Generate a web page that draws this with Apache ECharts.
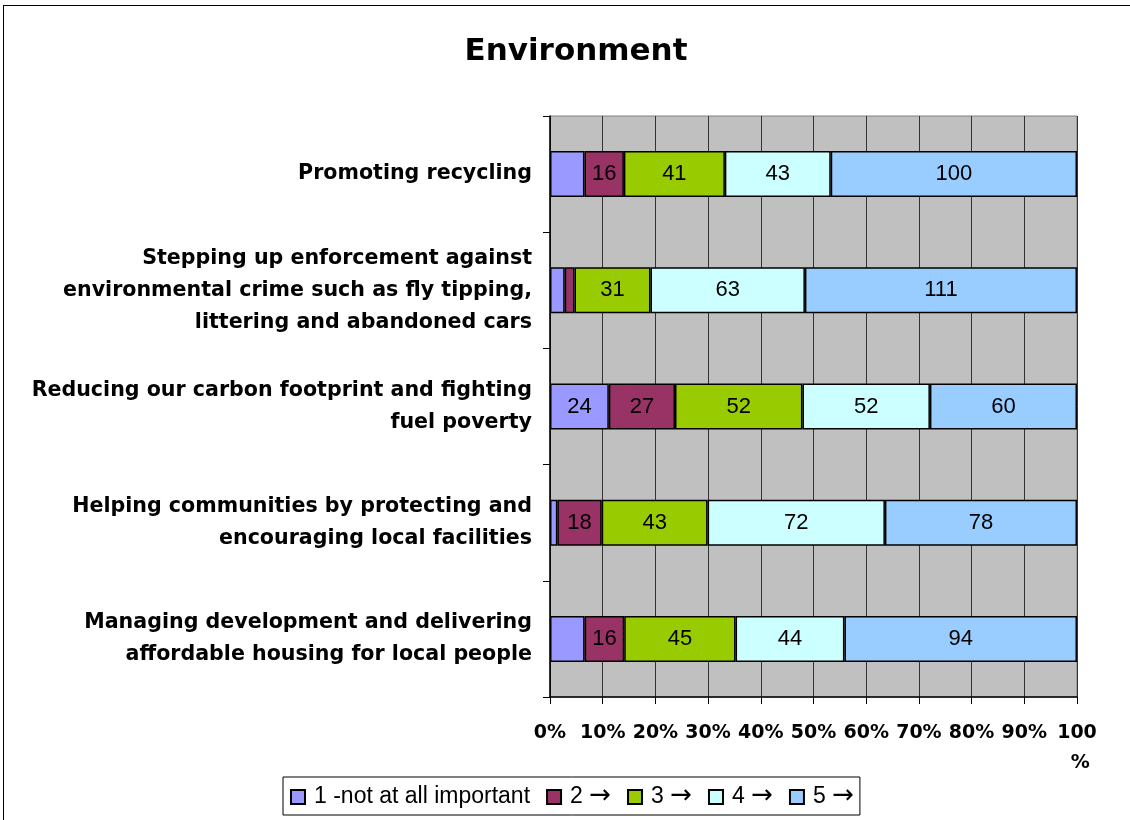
<!DOCTYPE html>
<html>
<head>
<meta charset="utf-8">
<script src="https://cdn.jsdelivr.net/npm/echarts@6/dist/echarts.min.js"></script>
<style>
  html, body { margin: 0; padding: 0; background: #fff; }
  #chart { position: absolute; left: 0; top: 0; width: 1130px; height: 820px; }
  #frame { position: absolute; left: 3px; top: 5px; width: 1140px; height: 840px; border: 1.5px solid #000; pointer-events: none; }
</style>
</head>
<body>
<div id="chart"></div>
<div id="frame"></div>
<script>
// categories (top to bottom)
var categories = [
  'Promoting recycling',
  'Stepping up enforcement against\nenvironmental crime such as fly tipping,\nlittering and abandoned cars',
  'Reducing our carbon footprint and fighting\nfuel poverty',
  'Helping communities by protecting and\nencouraging local facilities',
  'Managing development and delivering\naffordable housing for local people'
]
var seriesNames = ['1 -not at all important', '2 \u2192', '3 \u2192', '4 \u2192', '5 \u2192']
var colors = ['#9999ff', '#993366', '#99cc00', '#ccffff', '#99ccff']

// counts per answer, one array per series
var notImportant = [14, 6, 24, 3, 14]
var two = [16, 4, 27, 18, 16]
var three = [41, 31, 52, 43, 45]
var four = [43, 63, 52, 72, 44]
var five = [100, 111, 60, 78, 94]
var counts = [notImportant, two, three, four, five]

var xTicks = [0, 10, 20, 30, 40, 50, 60, 70, 80, 90, 100]

var totals = categories.map(function(c, i) {
  return counts.reduce(function(s, arr) { return s + arr[i] }, 0)
})

var boldFont = 'DejaVu Sans'
var plainFont = 'Liberation Sans, Arial'

var chart = echarts.init(document.getElementById('chart'))

var series = counts.map(function(arr, k) {
  return {
    name: seriesNames[k],
    type: 'bar',
    stack: 'all',
    barWidth: 46,
    data: arr.map(function(v, i) {
      return { value: v / totals[i] * 100, count: v }
    }),
    itemStyle: {
      color: colors[k],
      borderColor: '#000',
      borderWidth: 1.5
    },
    label: {
      show: true,
      position: 'inside',
      color: '#000',
      fontSize: 22,
      fontFamily: plainFont,
      formatter: function(p) {
        return p.data.count < 15 ? '' : p.data.count
      }
    }
  }
})

var option = {
  animation: false,
  color: colors,
  textStyle: { fontFamily: plainFont },
  title: {
    text: 'Environment',
    left: 571,
    textAlign: 'center',
    top: 31,
    textStyle: { fontSize: 31, fontWeight: 'bold', color: '#000', fontFamily: boldFont }
  },
  legend: {
    bottom: 5,
    left: 283,
    itemWidth: 14,
    itemHeight: 14,
    itemGap: 16,
    icon: 'rect',
    borderColor: '#000',
    borderWidth: 1,
    padding: [6, 6, 6, 7],
    formatter: function(name) {
      var parts = name.split(' \u2192')
      return parts.length > 1 ? '{t|' + parts[0] + ' }{a|\u2192}' : '{t|' + name + '}'
    },
    textStyle: {
      fontSize: 23,
      color: '#000',
      fontFamily: plainFont,
      padding: [0, 0, 0, 4],
      rich: {
        t: { fontSize: 23, color: '#000', fontFamily: plainFont },
        a: { fontSize: 26, color: '#000', fontFamily: 'DejaVu Sans', padding: [0, 0, 2, 0] }
      }
    },
    data: seriesNames
  },
  grid: {
    left: 550,
    right: 53,
    top: 116,
    bottom: 123,
    show: true,
    backgroundColor: '#c0c0c0',
    borderColor: '#808080',
    borderWidth: 1
  },
  xAxis: {
    type: 'value',
    min: 0,
    max: 100,
    interval: 10,
    axisLine: { show: true, lineStyle: { color: '#000', width: 1.5 } },
    axisTick: { show: true, length: 7, lineStyle: { color: '#000' } },
    splitLine: { show: true, lineStyle: { color: '#333', width: 1 } },
    axisLabel: {
      margin: 21,
      fontSize: 19,
      fontWeight: 'bold',
      fontFamily: boldFont,
      color: '#000',
      lineHeight: 30,
      formatter: function(v) {
        if (xTicks.indexOf(v) < 0) return ''
        return v === 100 ? '100\n %' : v + '%'
      }
    }
  },
  yAxis: {
    type: 'category',
    inverse: true,
    data: categories,
    axisLine: { show: true, lineStyle: { color: '#000', width: 1.5 } },
    axisTick: { show: true, length: 7, lineStyle: { color: '#000' } },
    axisLabel: {
      margin: 18,
      fontSize: 20.6,
      fontWeight: 'bold',
      fontFamily: boldFont,
      color: '#000',
      lineHeight: 32,
      align: 'right'
    }
  },
  series: series
}

chart.setOption(option)
</script>
</body>
</html>
